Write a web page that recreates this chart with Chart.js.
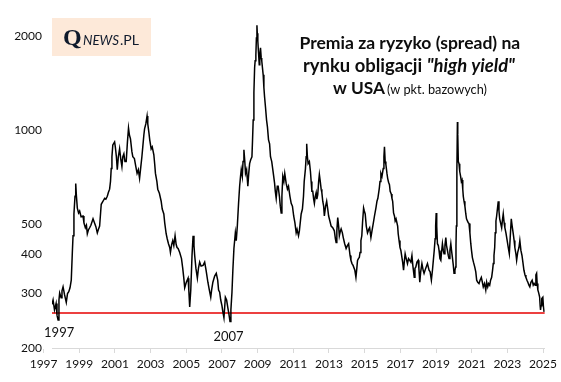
<!DOCTYPE html>
<html>
<head>
<meta charset="utf-8">
<script src="https://cdn.jsdelivr.net/npm/chart.js@4.4.1/dist/chart.umd.min.js"></script>
<style>
  html, body { margin: 0; padding: 0; background: #ffffff; }
  canvas { display: block; }
</style>
</head>
<body>
<canvas id="c" width="561" height="382"></canvas>
<script>
// ---- DATA ----
const years = [
  1997.47,1997.53,1997.61,1997.70,1997.75,1997.81,1997.86,1997.90,1997.98,
  1998.03,1998.09,1998.17,1998.27,1998.34,1998.41,1998.48,1998.55,1998.61,1998.65,1998.70,1998.76,1998.80,1998.84,1998.89,1998.96,
  1999.02,1999.10,1999.21,1999.26,1999.34,1999.40,1999.45,1999.51,1999.58,1999.65,1999.77,1999.85,1999.93,
  2000.01,2000.07,2000.14,2000.23,2000.33,2000.42,2000.49,2000.57,2000.63,2000.70,2000.75,2000.79,2000.83,2000.88,2000.98,
  2001.02,2001.08,2001.13,2001.19,2001.26,2001.33,2001.39,2001.44,2001.50,2001.56,2001.63,2001.70,2001.76,2001.81,2001.87,2001.95,
  2002.00,2002.09,2002.17,2002.24,2002.31,2002.38,2002.45,2002.51,2002.56,2002.62,2002.66,2002.73,2002.80,2002.84,2002.90,2002.95,
  2003.03,2003.09,2003.18,2003.23,2003.27,2003.35,2003.40,2003.49,2003.59,2003.65,2003.74,2003.79,2003.87,2003.93,
  2004.00,2004.07,2004.11,2004.18,2004.24,2004.30,2004.37,2004.43,2004.48,2004.54,2004.63,2004.73,2004.80,2004.86,2004.91,
  2005.00,2005.10,2005.14,2005.19,2005.25,2005.32,2005.38,2005.43,2005.47,2005.54,2005.62,2005.68,2005.75,2005.83,2005.94,
  2006.03,2006.11,2006.21,2006.29,2006.37,2006.42,2006.49,2006.59,2006.68,2006.76,2006.81,2006.87,2006.93,
  2007.00,2007.05,2007.11,2007.19,2007.26,2007.33,2007.39,2007.45,2007.50,2007.56,2007.61,2007.67,2007.75,2007.80,2007.86,2007.93,2007.99,
  2008.04,2008.08,2008.14,2008.18,2008.23,2008.28,2008.32,2008.38,2008.45,2008.50,2008.55,2008.61,2008.68,2008.71,2008.75,2008.79,2008.83,2008.86,2008.90,2008.93,2008.96,2008.98,
  2009.01,2009.05,2009.09,2009.12,2009.16,2009.20,2009.23,2009.27,2009.31,2009.35,2009.39,2009.44,2009.50,2009.55,2009.61,2009.67,2009.72,2009.79,2009.85,2009.90,2009.95,2009.99,
  2010.04,2010.10,2010.15,2010.22,2010.27,2010.32,2010.36,2010.41,2010.47,2010.52,2010.60,2010.67,2010.73,2010.81,2010.88,2010.95,
  2011.02,2011.09,2011.16,2011.21,2011.29,2011.34,2011.44,2011.51,2011.57,2011.61,2011.68,2011.72,2011.75,2011.79,2011.83,2011.90,2011.96,
  2012.00,2012.04,2012.09,2012.14,2012.18,2012.23,2012.28,2012.32,2012.37,2012.42,2012.46,2012.51,2012.56,2012.60,2012.65,2012.70,2012.74,2012.81,2012.87,2012.93,2012.98,
  2013.05,2013.12,2013.21,2013.30,2013.36,2013.40,2013.44,2013.49,2013.54,2013.58,2013.64,2013.68,2013.75,2013.80,2013.88,2013.96,
  2014.03,2014.10,2014.18,2014.23,2014.29,2014.35,2014.38,2014.45,2014.51,2014.56,2014.60,2014.65,2014.70,2014.74,2014.79,2014.84,2014.88,2014.94,2014.98,
  2015.03,2015.09,2015.16,2015.23,2015.28,2015.35,2015.41,2015.48,2015.55,2015.63,2015.69,2015.74,2015.82,2015.86,2015.91,2015.97,
  2016.04,2016.08,2016.11,2016.15,2016.19,2016.25,2016.29,2016.34,2016.39,2016.43,2016.49,2016.53,2016.57,2016.62,2016.67,2016.71,2016.76,2016.81,2016.85,2016.88,2016.93,2016.98,
  2017.03,2017.09,2017.13,2017.18,2017.23,2017.27,2017.33,2017.40,2017.46,2017.53,2017.59,2017.65,2017.70,2017.78,2017.82,2017.87,2017.93,
  2018.00,2018.04,2018.09,2018.14,2018.21,2018.28,2018.33,2018.42,2018.52,2018.61,2018.67,2018.74,2018.80,2018.85,2018.90,2018.95,2018.98,
  2019.01,2019.04,2019.08,2019.13,2019.17,2019.22,2019.27,2019.31,2019.36,2019.41,2019.45,2019.50,2019.55,2019.59,2019.64,2019.69,2019.73,2019.78,2019.83,2019.87,2019.92,2019.97,
  2020.01,2020.06,2020.10,2020.12,2020.14,2020.17,2020.20,2020.22,2020.25,2020.29,2020.33,2020.38,2020.42,2020.46,2020.50,2020.53,2020.57,2020.62,2020.67,2020.71,2020.76,2020.81,2020.85,2020.90,2020.95,2020.99,
  2021.04,2021.10,2021.17,2021.23,2021.28,2021.34,2021.41,2021.47,2021.54,2021.60,2021.65,2021.72,2021.79,2021.84,2021.90,2021.95,
  2022.01,2022.06,2022.12,2022.17,2022.21,2022.25,2022.29,2022.32,2022.36,2022.40,2022.43,2022.49,2022.53,2022.57,2022.62,2022.68,2022.72,2022.77,2022.82,2022.86,2022.92,2022.99,
  2023.05,2023.11,2023.16,2023.22,2023.27,2023.33,2023.38,2023.42,2023.48,2023.52,2023.58,2023.65,2023.70,2023.76,2023.82,2023.87,2023.93,2023.99,
  2024.04,2024.10,2024.15,2024.21,2024.26,2024.32,2024.39,2024.45,2024.50,2024.56,2024.60,2024.64,2024.67,2024.71,2024.76,2024.81,2024.84,2024.86,2024.89,2024.93,2024.99,
  2025.02,2025.06
];
const spread = [
  276,285,265,278,255,246,285,300,290,
  305,314,297,280,299,303,312,330,405,458,538,613,674,613,562,542,
  550,527,530,504,486,495,465,478,486,495,519,504,490,
  468,480,492,578,591,604,600,613,630,646,684,752,821,896,916,
  883,821,746,821,870,803,763,821,839,792,792,916,1015,964,937,852,
  821,810,763,726,746,700,763,821,883,964,1008,1046,1108,1046,985,930,
  870,883,833,775,726,684,646,627,591,558,538,504,465,448,
  432,420,405,430,442,426,458,430,420,417,405,387,360,335,312,
  325,335,307,271,307,396,458,426,396,360,335,360,377,366,368,
  377,355,325,307,291,307,325,340,347,330,307,302,285,
  273,261,250,291,285,269,257,243,265,302,355,417,468,442,492,582,660,
  710,746,710,792,864,792,726,746,660,726,780,803,821,916,1076,1320,1583,1668,1740,1972,2167,2044,
  1930,1766,1618,1740,1835,1703,1668,1583,1503,1367,1273,1183,1076,1022,930,903,821,792,746,710,674,636,
  604,660,660,613,570,542,613,710,684,726,674,646,660,613,582,570,
  530,504,468,480,458,475,538,558,613,684,752,821,903,821,780,792,736,
  684,636,636,600,582,613,630,600,620,684,720,684,646,630,591,570,530,570,591,558,530,
  511,492,486,475,448,436,475,524,492,458,475,482,468,452,432,417,
  426,432,396,382,373,368,368,355,337,360,382,387,390,405,442,458,504,562,550,
  538,492,468,480,486,452,475,501,530,562,591,604,650,684,726,710,
  752,821,883,792,775,726,700,680,668,636,624,604,591,542,530,511,519,519,492,465,442,420,
  411,390,377,355,382,401,387,373,387,382,377,396,368,337,360,364,377,
  382,360,325,351,373,355,347,360,373,355,351,330,355,382,411,448,492,
  542,492,432,426,411,387,382,405,432,411,401,426,452,426,411,396,387,411,432,411,390,368,
  347,355,364,426,492,736,1060,970,792,780,736,710,684,692,646,613,591,570,538,519,511,504,501,468,432,411,
  390,377,364,351,330,325,322,330,337,325,314,322,307,325,314,322,
  318,330,337,355,373,396,420,468,511,530,550,591,550,519,504,486,511,538,504,486,468,442,
  420,401,452,519,492,465,442,420,401,382,405,420,442,411,396,377,355,343,
  337,330,325,318,314,325,330,318,322,318,343,347,322,307,300,291,273,265,273,288,291,
  273,261
];
const yTicks = [200, 300, 400, 500, 1000, 2000];
const xTicks = [1997,1999,2001,2003,2005,2007,2009,2011,2013,2015,2017,2019,2021,2023,2025];
const refLevel = 259;                 // red horizontal reference line
const noteLabels = ['1997', '2007'];  // labels under the two lows
const noteX = [1997.87, 2007.37];
const noteY = [224, 218];

// ---- chart ----
const xStart = years[0];
const xEnd = 2025.10;

const overlay = {
  id: 'overlay',
  afterDatasetsDraw(chart) {
    const ctx = chart.ctx;
    const xs = chart.scales.x, ys = chart.scales.y;
    ctx.save();
    // notes
    ctx.fillStyle = '#111111';
    ctx.font = '13px Lato';
    ctx.textAlign = 'center';
    ctx.textBaseline = 'middle';
    noteLabels.forEach((t, i) => {
      ctx.fillText(t, xs.getPixelForValue(noteX[i]), ys.getPixelForValue(noteY[i]));
    });

    // title
    const fit = (runs, target) => {
      let w = 0;
      runs.forEach(r => { ctx.font = r.s + ' 20px Lato'; w += ctx.measureText(r.t).width; });
      return 20 * target / w;
    };
    const drawRuns = (runs, size, left, base) => {
      let x = left;
      ctx.textAlign = 'left';
      ctx.textBaseline = 'alphabetic';
      runs.forEach(r => {
        ctx.font = r.s + ' ' + (r.k ? size * r.k : size).toFixed(2) + 'px Lato';
        ctx.fillText(r.t, x, base);
        x += ctx.measureText(r.t).width;
      });
    };
    ctx.fillStyle = '#0d0d0d';
    const l1 = [{t: 'Premia za ryzyko (spread) na', s: 'bold'}];
    drawRuns(l1, fit(l1, 221), 299.5, 48.5);
    const l2 = [{t: 'rynku obligacji ', s: 'bold'}, {t: '"high yield"', s: 'italic bold'}];
    drawRuns(l2, fit(l2, 212), 303, 72);
    const l3a = [{t: 'w USA', s: 'bold'}];
    drawRuns(l3a, fit(l3a, 52), 333, 93.5);
    const l3b = [{t: '(w pkt. bazowych)', s: 'normal'}];
    drawRuns(l3b, fit(l3b, 100), 387, 93.5);

    // logo
    ctx.fillStyle = '#fde9d9';
    ctx.fillRect(52, 18, 99, 38);
    ctx.fillStyle = '#0f1a2c';
    ctx.textAlign = 'left';
    ctx.textBaseline = 'alphabetic';
    ctx.font = 'bold 24px "Liberation Serif"';
    ctx.fillText('Q', 63, 45);
    const ln = [{t: 'NEWS', s: 'italic'}];
    drawRuns(ln, fit(ln, 36), 83, 44.5);
    const lp = [{t: '.PL', s: 'normal'}];
    drawRuns(lp, fit(lp, 19), 120, 44.5);
    ctx.restore();
  }
};

new Chart(document.getElementById('c'), {
  type: 'line',
  data: {
    datasets: [
      {
        data: years.map((t, i) => ({x: t, y: spread[i]})),
        borderColor: '#000000',
        borderWidth: 1.5,
        pointRadius: 0,
        tension: 0,
        fill: false
      },
      {
        data: [{x: xStart, y: refLevel}, {x: xEnd, y: refLevel}],
        borderColor: '#e60000',
        borderWidth: 1.3,
        pointRadius: 0,
        fill: false
      }
    ]
  },
  options: {
    responsive: false,
    animation: false,
    events: [],
    layout: { padding: { left: 0, right: 15, top: 14, bottom: 0 } },
    plugins: { legend: { display: false }, tooltip: { enabled: false }, title: { display: false } },
    scales: {
      x: {
        type: 'linear',
        min: xStart,
        max: xEnd,
        afterBuildTicks: s => { s.ticks = xTicks.map(v => ({value: v})); },
        afterFit: s => { s.height = 34; },
        grid: { display: true, drawOnChartArea: false, drawTicks: true, tickLength: 5, color: '#d9d9d9', lineWidth: 1 },
        border: { display: true, color: '#d9d9d9', width: 1 },
        ticks: {
          autoSkip: false, maxRotation: 0, minRotation: 0, padding: 4,
          color: '#111111', font: { family: 'Lato', size: 12 },
          callback: v => String(v)
        }
      },
      y: {
        type: 'logarithmic',
        min: 200,
        max: 2300,
        afterBuildTicks: s => { s.ticks = yTicks.map(v => ({value: v})); },
        afterFit: s => { s.width = 52; },
        grid: { display: false, drawTicks: false },
        border: { display: false },
        ticks: {
          padding: 10,
          color: '#111111', font: { family: 'Lato', size: 12 },
          callback: v => String(v)
        }
      }
    }
  },
  plugins: [overlay]
});
</script>
</body>
</html>
